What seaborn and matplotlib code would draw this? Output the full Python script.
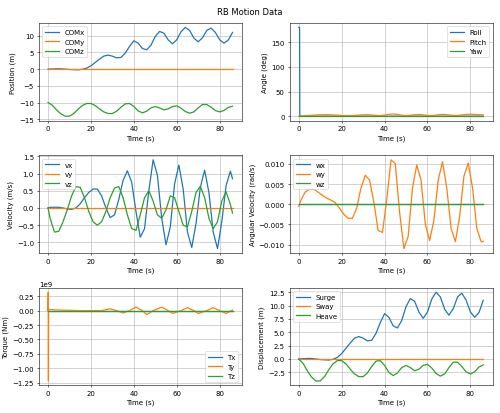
import matplotlib
matplotlib.use("Agg")
import matplotlib.pyplot as plt
import matplotlib.ticker as ticker
import seaborn as sns

# time grids (s)
t_even = list(range(0, 87, 2))
t_odd = [0] + list(range(1, 86, 2)) + [86]

com_x = [0, 0.05, 0.1, 0.1, 0, -0.1, -0.15, -0.2, -0.05, 0.3, 1.0, 2.0, 3.0, 3.9, 4.2,
         3.9, 3.4, 3.5, 4.8, 6.8, 8.5, 7.8, 6.2, 5.8, 7.2, 9.8, 11.3, 10.8, 8.8, 7.6,
         8.8, 11.2, 12.5, 11.6, 9.3, 8.2, 9.4, 11.6, 12.3, 11.0, 8.8, 7.8, 8.7, 11.0]
com_y = [0.0] * len(t_even)
com_z = [-10, -10.8, -12.2, -13.4, -14.1, -14.1, -13.3, -12.0, -10.9, -10.3, -10.3,
         -10.9, -11.9, -12.8, -13.3, -13.3, -12.6, -11.4, -10.4, -10.3, -11.2, -12.5,
         -13.1, -12.6, -11.6, -11.2, -11.6, -12.2, -11.9, -11.2, -11.0, -11.7, -12.7,
         -13.2, -12.8, -11.6, -10.6, -10.6, -11.4, -12.4, -12.8, -12.4, -11.5, -11.1]

roll_t = [0, 0.4, 0.5, 86]
roll = [180, 180, 0, 0]
pitch = [0, 0.5, 1.2, 1.8, 2.4, 2.8, 3.0, 3.0, 2.6, 2.0, 1.4, 1.0, 1.0, 1.5, 2.3,
         2.9, 3.0, 2.4, 1.6, 1.2, 2.2, 3.8, 4.5, 3.6, 2.0, 1.2, 1.8, 3.0, 3.5, 2.8,
         1.6, 1.2, 2.2, 3.4, 3.5, 2.6, 1.5, 1.4, 2.6, 3.7, 4.0, 3.6, 3.0, 2.8]
yaw = [0.0] * len(t_even)

vx = [0, 0.02, 0.02, 0.02, 0.0, -0.03, -0.04, 0.0, 0.12, 0.3, 0.45, 0.55, 0.55, 0.35,
      0.0, -0.28, -0.2, 0.25, 0.8, 1.08, 0.75, -0.1, -0.85, -0.6, 0.5, 1.4, 0.95, -0.3,
      -1.07, -0.55, 0.7, 1.25, 0.55, -0.7, -1.15, -0.45, 0.6, 1.1, 0.45, -0.7, -1.18,
      -0.4, 0.65, 1.07, 0.85]
vy = [0.0] * len(t_odd)
vz = [0, -0.3, -0.7, -0.68, -0.4, -0.05, 0.35, 0.62, 0.6, 0.3, -0.1, -0.4, -0.5, -0.4,
      -0.1, 0.3, 0.58, 0.62, 0.3, -0.2, -0.6, -0.65, -0.2, 0.3, 0.5, 0.2, -0.2, -0.3,
      -0.05, 0.35, 0.3, -0.1, -0.5, -0.55, -0.1, 0.45, 0.63, 0.3, -0.3, -0.6, -0.4,
      0.2, 0.47, 0.1, -0.15]

wx = [0.0] * len(t_odd)
wy = [-0.0005, 0.001, 0.003, 0.0037, 0.0037, 0.003, 0.0022, 0.0015, 0.001, 0.0004,
      -0.001, -0.0025, -0.0035, -0.0035, -0.001, 0.004, 0.0072, 0.006, 0.0005, -0.0065,
      -0.007, 0.001, 0.011, 0.01, -0.002, -0.011, -0.008, 0.004, 0.0097, 0.006, -0.005,
      -0.009, -0.004, 0.006, 0.0105, 0.004, -0.006, -0.0093, -0.003, 0.007, 0.0102,
      0.004, -0.006, -0.0093, -0.0092]
wz = [0.0] * len(t_odd)

torque_t = [0, 0.1, 0.2, 0.3, 5, 15, 25, 29, 32, 35, 38, 41, 44, 46, 49, 53, 56, 58,
            62, 65, 68, 70, 74, 77, 80, 83, 86]
tx = [0.0] * len(torque_t)
ty = [0, 0.32e9, -1.22e9, 0.02e9, 0.01e9, 0, 0, 0.03e9, 0.0, -0.04e9, 0.0, 0.06e9,
      0.0, -0.07e9, 0.0, 0.06e9, 0.0, -0.05e9, 0.0, 0.05e9, 0.0, -0.05e9, 0.0,
      0.05e9, 0.0, -0.05e9, 0.01e9]
tz = [0.0] * len(torque_t)

surge = com_x
sway = com_y
heave = [z + 10 for z in com_z]

panels = [
    ([(t_even, com_x, "COMx"), (t_even, com_y, "COMy"), (t_even, com_z, "COMz")],
     "Position (m)", "upper left"),
    ([(roll_t, roll, "Roll"), (t_even, pitch, "Pitch"), (t_even, yaw, "Yaw")],
     "Angle (deg)", "upper right"),
    ([(t_odd, vx, "vx"), (t_odd, vy, "vy"), (t_odd, vz, "vz")],
     "Velocity (m/s)", "upper left"),
    ([(t_odd, wx, "wx"), (t_odd, wy, "wy"), (t_odd, wz, "wz")],
     "Angular Velocity (rad/s)", "upper left"),
    ([(torque_t, tx, "Tx"), (torque_t, ty, "Ty"), (torque_t, tz, "Tz")],
     "Torque (Nm)", "lower right"),
    ([(t_even, surge, "Surge"), (t_even, sway, "Sway"), (t_even, heave, "Heave")],
     "Displacement (m)", "upper left"),
]

colors = sns.color_palette("tab10", 3)
fig, axes = plt.subplots(3, 2, figsize=(10, 8.28), dpi=50)
for ax, (series, ylabel, loc) in zip(axes.flat, panels):
    for (t, y, label), c in zip(series, colors):
        sns.lineplot(x=t, y=y, ax=ax, label=label, color=c, linewidth=1.8,
                     estimator=None, sort=False)
    ax.set_xlabel("Time (s)")
    ax.set_ylabel(ylabel)
    ax.grid(True)
    ax.legend(loc=loc)
axes[2, 1].yaxis.set_major_locator(ticker.MultipleLocator(2.5))
fig.suptitle("RB Motion Data")
fig.tight_layout()
fig.savefig("out.png", dpi=50)
